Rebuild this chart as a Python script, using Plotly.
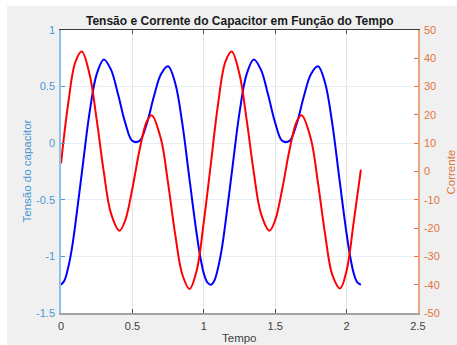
import plotly.graph_objects as go

# Capacitor voltage (left axis): time (s) and value
tempo_tensao = [0.00, 0.025, 0.05, 0.075, 0.10, 0.15, 0.20, 0.25, 0.30, 0.35, 0.40, 0.45, 0.50,
                0.55, 0.60, 0.65, 0.70, 0.75, 0.80, 0.85, 0.90, 0.95, 0.975, 1.00, 1.025, 1.05,
                1.075, 1.10, 1.125, 1.15, 1.20, 1.25, 1.30, 1.35, 1.40, 1.45, 1.50, 1.55, 1.60,
                1.65, 1.70, 1.75, 1.80, 1.85, 1.90, 1.95, 2.00, 2.025, 2.05, 2.075, 2.10]
tensao = [-1.25, -1.21, -1.10, -0.94, -0.72, -0.22, 0.27, 0.61, 0.74, 0.65, 0.43, 0.18, 0.02,
          0.02, 0.17, 0.41, 0.61, 0.68, 0.53, 0.17, -0.32, -0.80, -1.00, -1.15, -1.23, -1.25,
          -1.21, -1.10, -0.94, -0.72, -0.22, 0.27, 0.61, 0.74, 0.65, 0.43, 0.18, 0.02, 0.02,
          0.17, 0.41, 0.61, 0.68, 0.53, 0.17, -0.32, -0.80, -1.00, -1.15, -1.23, -1.25]

# Capacitor current (right axis): time (s) and value
tempo_corrente = [0.00, 0.05, 0.10, 0.145, 0.20, 0.25, 0.30, 0.35, 0.41, 0.45, 0.50,
                  0.55, 0.60, 0.635, 0.70, 0.75, 0.80, 0.85, 0.90, 0.95, 1.00, 1.05,
                  1.10, 1.15, 1.195, 1.25, 1.30, 1.35, 1.40, 1.46, 1.50, 1.55, 1.60,
                  1.65, 1.685, 1.75, 1.80, 1.85, 1.90, 1.955, 2.00, 2.05, 2.10]
corrente = [2.8, 23.9, 38.6, 42.4, 34.4, 18.3, -0.3, -14.8, -20.9, -17.2, -6.0,
            7.6, 17.6, 19.9, 11.5, -4.2, -22.3, -36.5, -41.5, -35.0, -17.8, 3.0,
            23.9, 38.6, 42.4, 34.4, 18.3, -0.3, -14.8, -20.9, -17.2, -6.0, 7.6,
            17.6, 19.9, 11.5, -4.2, -22.3, -36.5, -41.3, -35.0, -17.8, 0.7]

x_ticks = [0, 0.5, 1, 1.5, 2, 2.5]
x_ticktext = ["0", "0.5", "1", "1.5", "2", "2.5"]
yl_ticks = [-1.5, -1, -0.5, 0, 0.5, 1]
yl_ticktext = ["-1.5", "-1", "-0.5", "0", "0.5", "1"]
yr_ticks = [-50, -40, -30, -20, -10, 0, 10, 20, 30, 40, 50]
yr_ticktext = [str(v) for v in yr_ticks]

titulo = "Tensão e Corrente do Capacitor em Função do Tempo"
label_x = "Tempo"
label_yl = "Tensão do capacitor"
label_yr = "Corrente"

W, H = 457, 345
ML, MR, MT, MB = 61, 39, 30, 32
pw = W - ML - MR
ph = H - MT - MB

FONT = "Liberation Sans, Arial, sans-serif"
BLUE_AX = "#4a97d3"
ORANGE_AX = "#e2763f"

fig = go.Figure()
fig.add_trace(go.Scatter(x=tempo_tensao, y=tensao, mode="lines",
                         line=dict(color="#0000ff", width=2, shape="spline", smoothing=1.0),
                         xaxis="x", yaxis="y", showlegend=False))
fig.add_trace(go.Scatter(x=tempo_corrente, y=corrente, mode="lines",
                         line=dict(color="#ff0000", width=2, shape="spline", smoothing=1.0),
                         xaxis="x", yaxis="y2", showlegend=False))
# helper trace so the top (mirrored) axis is drawn
fig.add_trace(go.Scatter(x=[None], y=[None], xaxis="x2", yaxis="y", showlegend=False, hoverinfo="skip"))

fig.update_layout(
    width=W, height=H,
    margin=dict(l=ML, r=MR, t=MT, b=MB),
    paper_bgcolor="#f0f0f0",
    plot_bgcolor="#ffffff",
    font=dict(family=FONT, size=11, color="#404040"),
    xaxis=dict(range=[0, 2.5], tickvals=x_ticks, ticktext=x_ticktext,
               showgrid=True, gridcolor="#e4e4e4", gridwidth=1, zeroline=False,
               showline=True, linecolor="#a3a3a3", linewidth=2,
               ticks="inside", ticklen=4, tickcolor="#555555",
               tickfont=dict(size=11, color="#404040"), ticklabelstandoff=2),
    xaxis2=dict(range=[0, 2.5], overlaying="x", side="top", tickvals=x_ticks,
                showticklabels=False, showgrid=False, zeroline=False,
                showline=True, linecolor="#3a3a3a", linewidth=1,
                ticks="inside", ticklen=4, tickcolor="#555555"),
    yaxis=dict(range=[-1.5, 1], tickvals=yl_ticks, ticktext=yl_ticktext,
               showgrid=True, gridcolor="#e6eff8", gridwidth=1, zeroline=False,
               showline=True, linecolor="#8fc0e6", linewidth=1.5,
               ticks="inside", ticklen=4, tickcolor=BLUE_AX,
               tickfont=dict(size=11, color=BLUE_AX), ticklabelstandoff=2),
    yaxis2=dict(range=[-50, 50], overlaying="y", side="right", tickvals=yr_ticks, ticktext=yr_ticktext,
                showgrid=False, zeroline=False,
                showline=True, linecolor="#eca47f", linewidth=1.5,
                ticks="inside", ticklen=4, tickcolor=ORANGE_AX,
                tickfont=dict(size=11, color=ORANGE_AX), ticklabelstandoff=2),
    shapes=[
        dict(type="rect", xref="paper", yref="paper", layer="below",
             x0=-ML / pw, x1=(7 - ML) / pw, y0=-MB / ph, y1=(H - MB) / ph,
             fillcolor="#ffffff", line=dict(width=0)),
        dict(type="rect", xref="paper", yref="paper", layer="below",
             x0=-ML / pw, x1=(W - ML) / pw, y0=(H - MB - 6) / ph, y1=(H - MB) / ph,
             fillcolor="#ffffff", line=dict(width=0)),
    ],
    annotations=[
        dict(text="<b>" + titulo + "</b>", xref="paper", yref="paper",
             x=0.5, y=(H - MB - 21) / ph, xanchor="center", yanchor="middle",
             showarrow=False, font=dict(size=12, color="#1a1a1a", family=FONT)),
        dict(text=label_x, xref="paper", yref="paper",
             x=0.5, y=((H - MB) - 338) / ph, xanchor="center", yanchor="middle",
             showarrow=False, font=dict(size=11.5, color="#404040", family=FONT)),
        dict(text=label_yl, xref="paper", yref="paper", textangle=-90,
             x=(26 - ML) / pw, y=0.5, xanchor="center", yanchor="middle",
             showarrow=False, font=dict(size=11.5, color=BLUE_AX, family=FONT)),
        dict(text=label_yr, xref="paper", yref="paper", textangle=-90,
             x=(450 - ML) / pw, y=0.5, xanchor="center", yanchor="middle",
             showarrow=False, font=dict(size=11.5, color=ORANGE_AX, family=FONT)),
    ],
)

fig.write_html("out.html")
